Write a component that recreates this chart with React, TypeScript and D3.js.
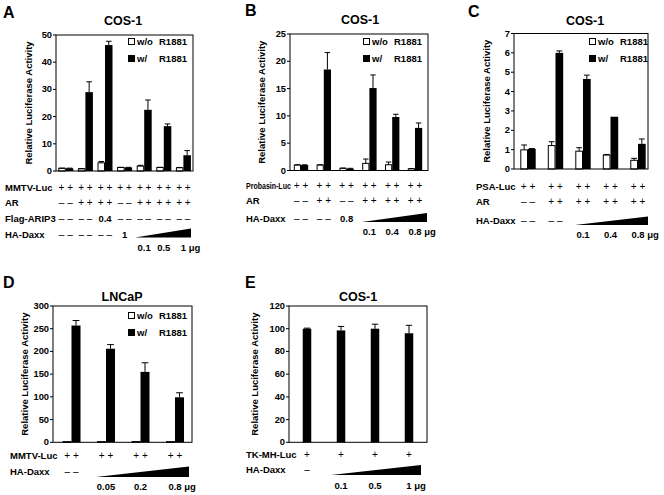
import React from 'react';
import * as d3 from 'd3';

const FONT = '"Liberation Sans", Arial, Helvetica, sans-serif';
const MU = '\u03bcg';

// ---------- Panel A ----------
const aGroups = ['g1', 'g2', 'g3', 'g4', 'g5', 'g6', 'g7'];
const aWithout = [1.0, 0.8, 3.0, 1.3, 1.8, 1.3, 1.2];
const aWithoutErr = [0.05, 0.1, 0.5, 0.05, 0.3, 0.05, 0.1];
const aWith = [1.0, 29.0, 46.3, 1.3, 22.5, 16.5, 5.8];
const aWithErr = [0.05, 3.8, 1.4, 0.05, 3.6, 0.8, 1.7];
const aTicks = [0, 10, 20, 30, 40, 50];
const aRowLabels = ['MMTV-Luc', 'AR', 'Flag-ARIP3', 'HA-Daxx'];
const aRowMarks = [
  ['++', '++', '++', '++', '++', '++', '++'],
  ['--', '++', '++', '--', '++', '++', '++'],
  ['--', '--', '0.4', '--', '--', '--', '--'],
  ['--', '--', '--', '1', '', '', ''],
];
const aDoses = ['0.1', '0.5', '1'];

// ---------- Panel B ----------
const bGroups = ['g1', 'g2', 'g3', 'g4', 'g5', 'g6'];
const bWithout = [1.0, 1.0, 0.4, 1.3, 1.05, 0.3];
const bWithoutErr = [0.05, 0.05, 0.05, 0.8, 0.5, 0.05];
const bWith = [1.0, 18.5, 0.35, 15.1, 9.8, 7.8];
const bWithErr = [0.05, 3.1, 0.05, 2.4, 0.5, 0.9];
const bTicks = [0, 5, 10, 15, 20, 25];
const bRowLabels = ['Probasin-Luc', 'AR', 'HA-Daxx'];
const bRowMarks = [
  ['++', '++', '++', '++', '++', '++'],
  ['--', '++', '--', '++', '++', '++'],
  ['--', '--', '0.8', '', '', ''],
];
const bDoses = ['0.1', '0.4', '0.8'];

// ---------- Panel C ----------
const cGroups = ['g1', 'g2', 'g3', 'g4', 'g5'];
const cWithout = [0.99, 1.21, 0.92, 0.72, 0.45];
const cWithoutErr = [0.25, 0.2, 0.18, 0.03, 0.1];
const cWith = [1.04, 6.0, 4.65, 2.7, 1.3];
const cWithErr = [0.02, 0.1, 0.2, 0.0, 0.25];
const cTicks = [0, 1, 2, 3, 4, 5, 6, 7];
const cRowLabels = ['PSA-Luc', 'AR', 'HA-Daxx'];
const cRowMarks = [
  ['++', '++', '++', '++', '++'],
  ['--', '++', '++', '++', '++'],
  ['--', '--', '', '', ''],
];
const cDoses = ['0.1', '0.4', '0.8'];

// ---------- Panel D ----------
const dGroups = ['g1', 'g2', 'g3', 'g4'];
const dWithout = [1.5, 1.5, 1.5, 1.5];
const dWithoutErr = [0, 0, 0, 0];
const dWith = [257, 206, 155, 99];
const dWithErr = [11, 9, 20, 10];
const dTicks = [0, 50, 100, 150, 200, 250, 300];
const dRowLabels = ['MMTV-Luc', 'HA-Daxx'];
const dRowMarks = [
  ['++', '++', '++', '++'],
  ['--', '', '', ''],
];
const dDoses = ['0.05', '0.2', '0.8'];

// ---------- Panel E ----------
const eGroups = ['g1', 'g2', 'g3', 'g4'];
const eValues = [100, 98.5, 100, 96];
const eErr = [0.5, 3.5, 4, 7];
const eTicks = [0, 20, 40, 60, 80, 100, 120];
const eRowLabels = ['TK-MH-Luc', 'HA-Daxx'];
const eRowMarks = [
  ['+', '+', '+', '+'],
  ['-', '', '', ''],
];
const eDoses = ['0.1', '0.5', '1'];

const legendLabels = ['w/o', 'R1881', 'w/'];

type PanelCfg = {
  letter: string; letterX: number; letterY: number;
  title: string; titleX: number; titleY: number;
  x0: number; x1: number; y0: number; yTop: number;
  c0: number; c1: number;
  groups: string[]; yMax: number; ticks: number[];
  white?: number[]; whiteErr?: number[]; black: number[]; blackErr: number[];
  barW: number; centered?: boolean;
  ylabX: number;
  legend?: { x: number; y: number };
  rowX: number; rowYs: number[]; rowLabels: string[]; rowMarks: string[][];
  firstLabelScale?: number;
  doses: string[]; doseStart: number; doseY: number;
  triL: number; triR: number; triBottom: number; triTop: number;
};

function numWidth(s: string, fs: number) {
  let w = 0;
  for (const ch of s) w += ch === '.' ? 0.278 * fs : 0.556 * fs;
  return w;
}

function Panel({ p }: { p: PanelCfg }) {
  const x = d3.scalePoint<string>().domain(p.groups).range([p.c0, p.c1]);
  const y = d3.scaleLinear().domain([0, p.yMax]).range([p.y0, p.yTop]);
  const fs = 9.5;
  const bars: JSX.Element[] = [];
  p.groups.forEach((g, i) => {
    const cx = x(g)!;
    const cap = p.barW * 0.75;
    if (p.centered) {
      const v = p.black[i];
      const bx = cx - p.barW / 2;
      bars.push(<rect key={'b' + i} x={bx} y={y(v)} width={p.barW} height={p.y0 - y(v)} fill="#000" />);
      const e = p.blackErr[i];
      if (e > 0) {
        bars.push(<line key={'be' + i} x1={cx} x2={cx} y1={y(v)} y2={y(v + e)} stroke="#000" strokeWidth={1} />);
        bars.push(<line key={'bc' + i} x1={cx - cap / 2} x2={cx + cap / 2} y1={y(v + e)} y2={y(v + e)} stroke="#000" strokeWidth={1} />);
      }
    } else {
      const wv = p.white![i];
      const wx = cx - p.barW;
      bars.push(<rect key={'w' + i} x={wx + 0.5} y={y(wv)} width={p.barW - 1} height={Math.max(p.y0 - y(wv), 0.5)} fill="#fff" stroke="#000" strokeWidth={1} />);
      const we = p.whiteErr![i];
      if (we > 0) {
        const wc = wx + p.barW / 2;
        bars.push(<line key={'we' + i} x1={wc} x2={wc} y1={y(wv)} y2={y(wv + we)} stroke="#000" strokeWidth={1} />);
        bars.push(<line key={'wc' + i} x1={wc - cap / 2} x2={wc + cap / 2} y1={y(wv + we)} y2={y(wv + we)} stroke="#000" strokeWidth={1} />);
      }
      const bv = p.black[i];
      bars.push(<rect key={'b' + i} x={cx} y={y(bv)} width={p.barW} height={p.y0 - y(bv)} fill="#000" />);
      const be = p.blackErr[i];
      if (be > 0) {
        const bc = cx + p.barW / 2;
        bars.push(<line key={'be' + i} x1={bc} x2={bc} y1={y(bv)} y2={y(bv + be)} stroke="#000" strokeWidth={1} />);
        bars.push(<line key={'bc' + i} x1={bc - cap / 2} x2={bc + cap / 2} y1={y(bv + be)} y2={y(bv + be)} stroke="#000" strokeWidth={1} />);
      }
    }
  });

  const marks: JSX.Element[] = [];
  p.rowMarks.forEach((row, ri) => {
    row.forEach((m, gi) => {
      if (!m) return;
      const cx = x(p.groups[gi])!;
      const yy = p.rowYs[ri];
      if (m === '++' || m === '--') {
        const ch = m === '++' ? '+ +' : '\u2013 \u2013';
        marks.push(<text key={`m${ri}-${gi}`} x={cx} y={yy} textAnchor="middle" fontWeight="normal" fontSize={10}>{ch}</text>);
      } else if (m === '+' || m === '-') {
        marks.push(<text key={`m${ri}-${gi}`} x={cx} y={yy} textAnchor="middle" fontWeight="normal" fontSize={10}>{m === '+' ? '+' : '\u2013'}</text>);
      } else {
        marks.push(<text key={`m${ri}-${gi}`} x={cx} y={yy} textAnchor="middle">{m}</text>);
      }
    });
  });

  const doseEls = p.doses.map((d, i) => {
    const g = p.groups[p.doseStart + i];
    const cx = x(g)!;
    if (i === p.doses.length - 1) {
      return (
        <text key={'d' + i} x={cx - numWidth(d, fs) / 2} y={p.doseY} textAnchor="start">{`${d} ${MU}`}</text>
      );
    }
    return <text key={'d' + i} x={cx} y={p.doseY} textAnchor="middle">{d}</text>;
  });

  const triPath = `M${p.triL},${p.triBottom}L${p.triR},${p.triBottom}L${p.triR},${p.triTop}Z`;
  const ylabY = (p.y0 + p.yTop) / 2;

  return (
    <g fontFamily={FONT} fontWeight="bold" fontSize={fs} fill="#000">
      <text x={p.letterX} y={p.letterY} fontSize={16}>{p.letter}</text>
      <text x={p.titleX} y={p.titleY} fontSize={12.5} textAnchor="middle">{p.title}</text>
      <text transform={`translate(${p.ylabX},${ylabY}) rotate(-90)`} textAnchor="middle" dominantBaseline="middle" fontSize={9.5}>Relative Luciferase Activity</text>
      {p.ticks.map((t) => (
        <g key={'t' + t}>
          <line x1={p.x0 - 3} x2={p.x0} y1={y(t)} y2={y(t)} stroke="#000" strokeWidth={1} />
          <text x={p.x0 - 4} y={y(t)} textAnchor="end" dominantBaseline="central" fontSize={9.3}>{t}</text>
        </g>
      ))}
      {bars}
      <rect x={p.x0} y={p.yTop} width={p.x1 - p.x0} height={p.y0 - p.yTop} fill="none" stroke="#000" strokeWidth={1} />
      {p.legend && (
        <g fontSize={9.5}>
          <rect x={p.legend.x + 0.5} y={p.legend.y + 0.5} width={6} height={6} fill="#fff" stroke="#000" strokeWidth={1} />
          <text x={p.legend.x + 9} y={p.legend.y + 7}>{legendLabels[0]}</text>
          <text x={p.legend.x + 31} y={p.legend.y + 7}>{legendLabels[1]}</text>
          <rect x={p.legend.x} y={p.legend.y + 17} width={7} height={7} fill="#000" />
          <text x={p.legend.x + 9} y={p.legend.y + 24}>{legendLabels[2]}</text>
          <text x={p.legend.x + 31} y={p.legend.y + 24}>{legendLabels[1]}</text>
        </g>
      )}
      {p.rowLabels.map((l, i) =>
        i === 0 && p.firstLabelScale ? (
          <text key={'r' + i} transform={`translate(${p.rowX},${p.rowYs[i]}) scale(${p.firstLabelScale},1)`} fontSize={9.5}>{l}</text>
        ) : (
          <text key={'r' + i} x={p.rowX} y={p.rowYs[i]} fontSize={9.5}>{l}</text>
        )
      )}
      {marks}
      <path d={triPath} fill="#000" />
      {doseEls}
    </g>
  );
}

const panels: PanelCfg[] = [
  {
    letter: 'A', letterX: 3, letterY: 18, title: 'COS-1', titleX: 123, titleY: 25,
    x0: 56, x1: 193, y0: 171, yTop: 35, c0: 65.8, c1: 183.4,
    groups: aGroups, yMax: 50, ticks: aTicks,
    white: aWithout, whiteErr: aWithoutErr, black: aWith, blackErr: aWithErr,
    barW: 7.5, ylabX: 29, legend: { x: 128, y: 38 },
    rowX: 5, rowYs: [190.5, 205.5, 222, 238], rowLabels: aRowLabels, rowMarks: aRowMarks,
    doses: aDoses, doseStart: 4, doseY: 251,
    triL: 135, triR: 191, triBottom: 237.5, triTop: 228.5,
  },
  {
    letter: 'B', letterX: 245, letterY: 16, title: 'COS-1', titleX: 360, titleY: 24,
    x0: 290, x1: 428, y0: 170.5, yTop: 34, c0: 301, c1: 415,
    groups: bGroups, yMax: 25, ticks: bTicks,
    white: bWithout, whiteErr: bWithoutErr, black: bWith, blackErr: bWithErr,
    barW: 7.2, ylabX: 262, legend: { x: 363, y: 38 },
    rowX: 246, rowYs: [189, 203.5, 221.5], rowLabels: bRowLabels, rowMarks: bRowMarks, firstLabelScale: 0.74,
    doses: bDoses, doseStart: 3, doseY: 234.5,
    triL: 362, triR: 427, triBottom: 222, triTop: 213,
  },
  {
    letter: 'C', letterX: 468, letterY: 17, title: 'COS-1', titleX: 585, titleY: 25,
    x0: 514, x1: 648, y0: 169, yTop: 33.5, c0: 528, c1: 638,
    groups: cGroups, yMax: 7, ticks: cTicks,
    white: cWithout, whiteErr: cWithoutErr, black: cWith, blackErr: cWithErr,
    barW: 7.7, ylabX: 487, legend: { x: 589, y: 38 },
    rowX: 476, rowYs: [189.5, 205, 223.5], rowLabels: cRowLabels, rowMarks: cRowMarks,
    doses: cDoses, doseStart: 2, doseY: 237.5,
    triL: 575, triR: 648, triBottom: 225, triTop: 216.5,
  },
  {
    letter: 'D', letterX: 3, letterY: 288, title: 'LNCaP', titleX: 122, titleY: 301,
    x0: 53, x1: 192, y0: 442.3, yTop: 306, c0: 71.5, c1: 175,
    groups: dGroups, yMax: 300, ticks: dTicks,
    white: dWithout, whiteErr: dWithoutErr, black: dWith, blackErr: dWithErr,
    barW: 9, ylabX: 25, legend: { x: 128, y: 312 },
    rowX: 10, rowYs: [458.5, 474.5], rowLabels: dRowLabels, rowMarks: dRowMarks,
    doses: dDoses, doseStart: 1, doseY: 489.5,
    triL: 96, triR: 189, triBottom: 477, triTop: 466.5,
  },
  {
    letter: 'E', letterX: 245, letterY: 288, title: 'COS-1', titleX: 358, titleY: 301,
    x0: 289, x1: 427, y0: 442.3, yTop: 306, c0: 307, c1: 409,
    groups: eGroups, yMax: 120, ticks: eTicks,
    black: eValues, blackErr: eErr, barW: 8.5, centered: true,
    ylabX: 255,
    rowX: 246, rowYs: [457.5, 473], rowLabels: eRowLabels, rowMarks: eRowMarks,
    doses: eDoses, doseStart: 1, doseY: 488.5,
    triL: 331, triR: 421, triBottom: 475, triTop: 465,
  },
];

export default function App() {
  return (
    <svg width={664} height={495} viewBox="0 0 664 495" style={{ position: 'absolute', left: 0, top: 0, background: '#fff' }}>
      <rect x={0} y={0} width={664} height={495} fill="#fff" />
      {panels.map((p) => <Panel key={p.letter} p={p} />)}
    </svg>
  );
}
